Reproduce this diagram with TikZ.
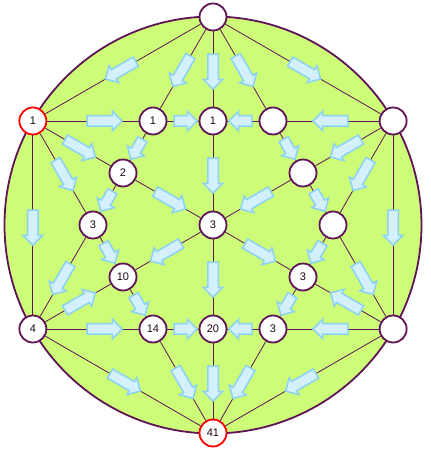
\documentclass[tikz,border=0pt]{standalone}
\usepackage{fontspec}
\setmainfont{Liberation Sans}
\usetikzlibrary{shapes.arrows}
\definecolor{disk}{RGB}{204,252,120}
\definecolor{rim}{RGB}{95,20,85}
\definecolor{arfill}{RGB}{212,240,252}
\definecolor{ardraw}{RGB}{140,210,245}
\tikzset{
  nd/.style={circle, minimum size=27pt, inner sep=0pt, line width=1.8pt, draw=rim, fill=white, text=rim!30!black, font=\fontsize{11}{13}\selectfont},
  src/.style={nd, draw=red},
  ln/.style={draw=rim, line width=0.8pt},
  ar/.style={single arrow, single arrow head extend=4.5pt, minimum height=35pt, inner xsep=2pt, inner ysep=4.5pt, fill=arfill, draw=ardraw, line width=1.5pt, sloped, allow upside down, pos=0.5},
  ars/.style={ar, minimum height=23pt}
}
\begin{document}
\begin{tikzpicture}[x=1pt,y=1pt]
	\useasboundingbox (-213,-229) rectangle (217,225);
	\fill[disk] (0,0) circle (208.5);
	\draw[rim, line width=1.8pt] (0,0) circle (208.5);

	\node[nd] (T) at (90:208) {};
	\node[src] (L1) at (150:208) {1};
	\node[nd] (R1) at (30:208) {};
	\node[nd] (L4) at (210:208) {4};
	\node[nd] (R4) at (330:208) {};
	\node[src] (B) at (270:208) {41};

	\node[nd] (A1) at (-60,104) {1};
	\node[nd] (A2) at (0,104) {1};
	\node[nd] (A3) at (60,104) {};
	\node[nd] (B1) at (-90,52) {2};
	\node[nd] (B2) at (90,52) {};
	\node[nd] (C1) at (-120,0) {3};
	\node[nd] (C2) at (0,0) {3};
	\node[nd] (C3) at (120,0) {};
	\node[nd] (D1) at (-90,-52) {10};
	\node[nd] (D2) at (90,-52) {3};
	\node[nd] (E1) at (-60,-104) {14};
	\node[nd] (E2) at (0,-104) {20};
	\node[nd] (E3) at (60,-104) {3};

	\draw[ln] (T) -- node[ar] {} (L1);
	\draw[ln] (T) -- node[ar] {} (R1);
	\draw[ln] (L1) -- node[ar] {} (L4);
	\draw[ln] (R1) -- node[ar] {} (R4);
	\draw[ln] (L4) -- node[ar] {} (B);
	\draw[ln] (R4) -- node[ar] {} (B);

	\draw[ln] (L1) -- node[ar, pos=0.6] {} (A1);
	\draw[ln] (A1) -- node[ars] {} (A2);
	\draw[ln] (A3) -- node[ars] {} (A2);
	\draw[ln] (R1) -- node[ar] {} (A3);

	\draw[ln] (L4) -- node[ar, pos=0.6] {} (E1);
	\draw[ln] (E1) -- node[ars] {} (E2);
	\draw[ln] (E3) -- node[ars] {} (E2);
	\draw[ln] (R4) -- node[ar] {} (E3);

	\draw[ln] (T) -- node[ar] {} (A2);
	\draw[ln] (A2) -- node[ar] {} (C2);
	\draw[ln] (C2) -- node[ar] {} (E2);
	\draw[ln] (E2) -- node[ar] {} (B);

	\draw[ln] (T) -- node[ar] {} (A1);
	\draw[ln] (A1) -- node[ars] {} (B1);
	\draw[ln] (B1) -- node[ars] {} (C1);
	\draw[ln] (C1) -- node[ar] {} (L4);

	\draw[ln] (T) -- node[ar] {} (A3);
	\draw[ln] (A3) -- node[ars] {} (B2);
	\draw[ln] (B2) -- node[ars] {} (C3);
	\draw[ln] (C3) -- node[ar] {} (R4);

	\draw[ln] (L1) -- node[ar] {} (C1);
	\draw[ln] (C1) -- node[ars] {} (D1);
	\draw[ln] (D1) -- node[ars] {} (E1);
	\draw[ln] (E1) -- node[ar] {} (B);

	\draw[ln] (R1) -- node[ar] {} (C3);
	\draw[ln] (C3) -- node[ars] {} (D2);
	\draw[ln] (D2) -- node[ars] {} (E3);
	\draw[ln] (E3) -- node[ar] {} (B);

	\draw[ln] (L1) -- node[ar] {} (B1);
	\draw[ln] (B1) -- node[ar] {} (C2);
	\draw[ln] (C2) -- node[ar] {} (D2);
	\draw[ln] (R4) -- node[ar] {} (D2);

	\draw[ln] (R1) -- node[ar] {} (B2);
	\draw[ln] (B2) -- node[ar] {} (C2);
	\draw[ln] (C2) -- node[ar] {} (D1);
	\draw[ln] (L4) -- node[ar] {} (D1);
\end{tikzpicture}
\end{document}
